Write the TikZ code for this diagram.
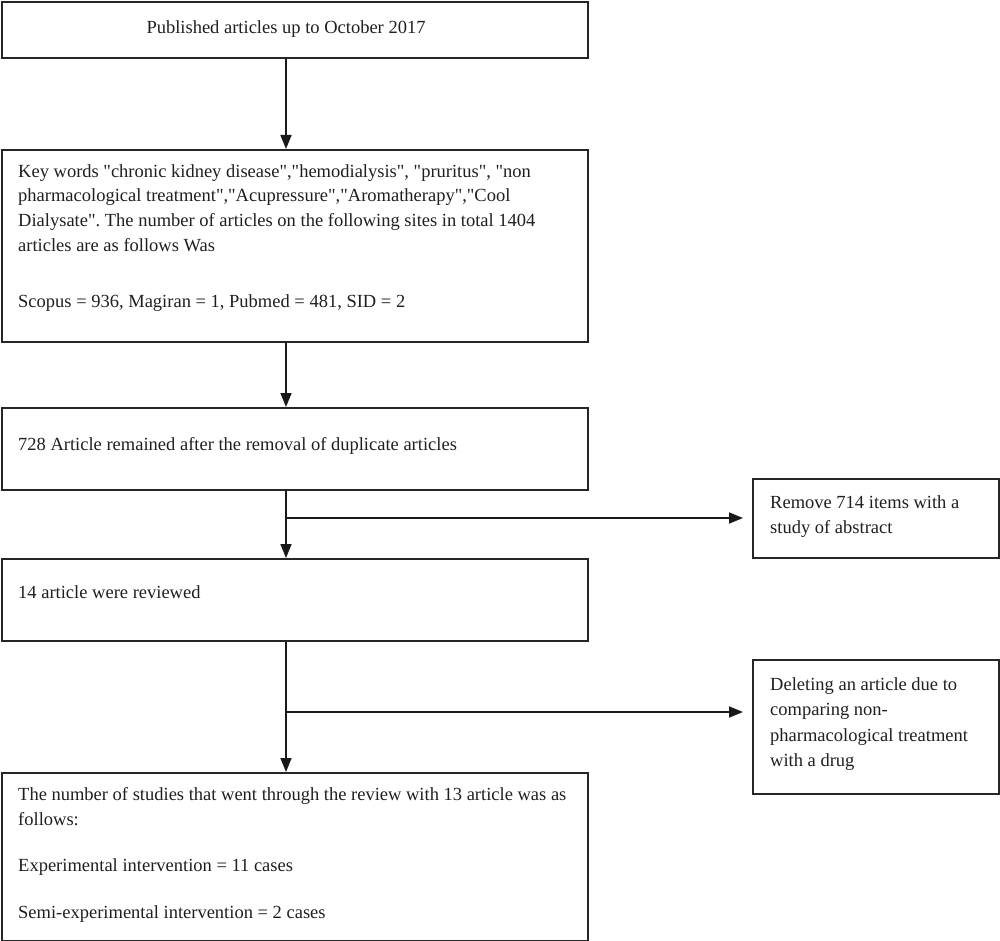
\documentclass[tikz,border=0pt]{standalone}
\usepackage{fontspec}
\setmainfont{Liberation Serif}[Ligatures=TeXOff]
\usetikzlibrary{arrows.meta}
\newcommand{\fstrut}{\rule{0pt}{13pt}}
\frenchspacing
\begin{document}
\begin{tikzpicture}[x=1pt,y=-1pt,
  box/.style={draw=black!85, line width=1.6pt, inner sep=0pt, anchor=north west},
  txt/.style={anchor=north west, inner sep=0pt, font=\fontsize{18.5}{24.8}\selectfont, text=black!88, align=left},
  arr/.style={line width=1.6pt, draw=black!90, -{Triangle[length=14pt,width=11pt]}}]
\useasboundingbox (0,0) rectangle (1000,941);
% boxes
\node[box, minimum width=586pt, minimum height=56pt]  (b1) at (1,1) {};
\node[box, minimum width=586pt, minimum height=192pt] (b2) at (1,149) {};
\node[box, minimum width=586pt, minimum height=82pt]  (b3) at (1,407) {};
\node[box, minimum width=586pt, minimum height=82pt]  (b4) at (1,558) {};
\node[box, minimum width=586pt, minimum height=168pt] (b5) at (1,772) {};
\node[box, minimum width=246pt, minimum height=79pt]  (s1) at (752,478) {};
\node[box, minimum width=246pt, minimum height=134pt] (s2) at (752,659) {};
% texts (north = first baseline - 13)
\node[txt, anchor=base] (t1) at (286,34) {Published articles up to October 2017};
\node[txt] (t2) at (18,164) {\fstrut Key words "chronic kidney disease","hemodialysis", "pruritus", "non\\
pharmacological treatment","Acupressure","Aromatherapy","Cool\\
Dialysate". The number of articles on the following sites in total 1404\\
articles are as follows Was};
\node[txt] (t2b) at (18,294) {\fstrut Scopus = 936, Magiran = 1, Pubmed = 481, SID = 2};
\node[txt] (t3) at (18,437) {\fstrut 728 Article remained after the removal of duplicate articles};
\node[txt] (t4) at (18,585) {\fstrut 14 article were reviewed};
\node[txt] (t5) at (18,787) {\fstrut The number of studies that went through the review with 13 article was as\\
follows:};
\node[txt] (t5b) at (18,858) {\fstrut Experimental intervention = 11 cases};
\node[txt] (t5c) at (18,905) {\fstrut Semi-experimental intervention = 2 cases};
\node[txt] (ts1) at (770,495) {\fstrut Remove 714 items with a\\study of abstract};
\node[txt, font=\fontsize{18.5}{25.5}\selectfont] (ts2) at (770,677) {\fstrut Deleting an article due to\\comparing non-\\pharmacological treatment\\with a drug};
% connectors
\coordinate (ax) at (286,0);
\coordinate (j1) at (286,518);
\coordinate (j2) at (286,712);
\draw[arr] (b1.south -| ax) -- (b2.north -| ax);
\draw[arr] (b2.south -| ax) -- (b3.north -| ax);
\draw[arr] (b3.south -| ax) -- (b4.north -| ax);
\draw[arr] (b4.south -| ax) -- (b5.north -| ax);
\draw[arr, shorten >=9pt] (j1) -- (j1 -| s1.west);
\draw[arr, shorten >=9pt] (j2) -- (j2 -| s2.west);
\end{tikzpicture}
\end{document}
